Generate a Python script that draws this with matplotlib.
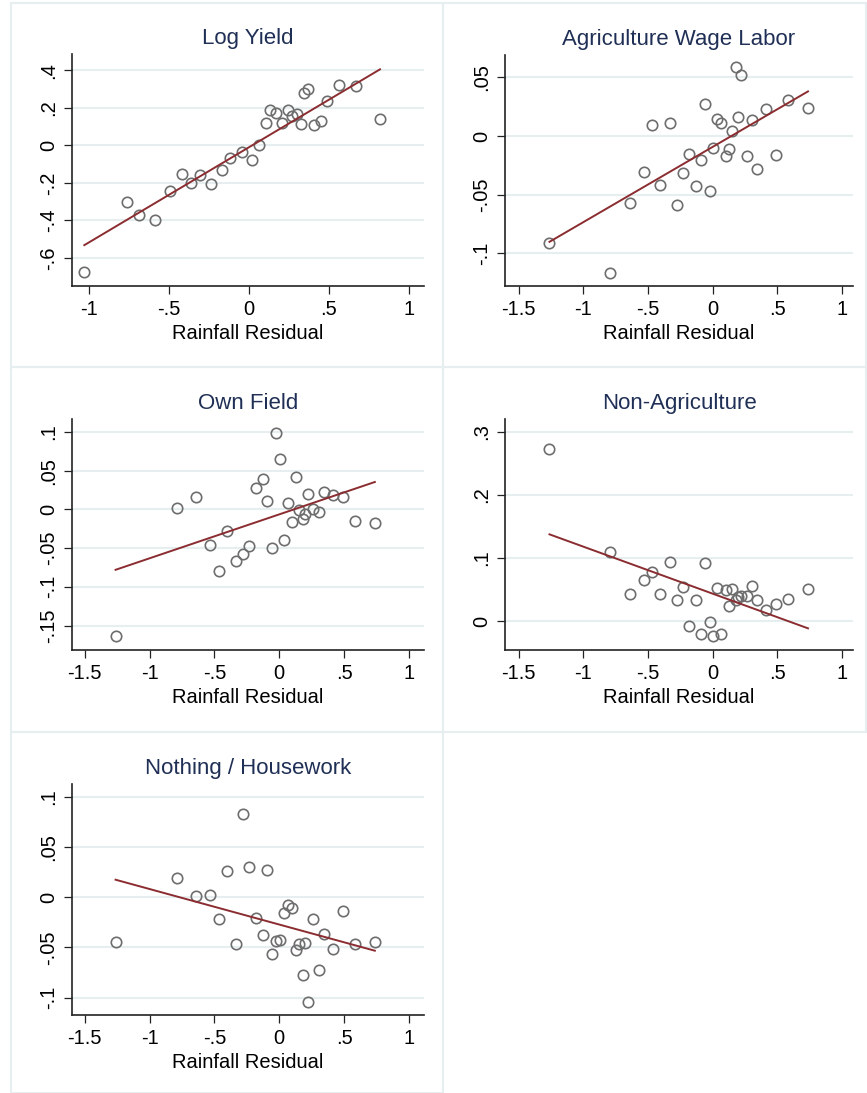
import numpy as np
import matplotlib.pyplot as plt
from matplotlib.patches import Rectangle
from matplotlib.ticker import FuncFormatter

plt.rcParams['font.family'] = ['Liberation Sans', 'DejaVu Sans']

# Log Yield panel has its own rainfall values
x_yield = [-1.029, -0.760, -0.685, -0.590, -0.496, -0.421, -0.360, -0.306, -0.2375, -0.171,
           -0.119, -0.044, 0.021, 0.065, 0.108, 0.131, 0.167, 0.204, 0.246, 0.271,
           0.300, 0.323, 0.346, 0.369, 0.404, 0.450, 0.4875, 0.5625, 0.669, 0.819]
log_yield = [-0.677, -0.299, -0.371, -0.397, -0.242, -0.150, -0.200, -0.155, -0.203, -0.130,
             -0.066, -0.034, -0.077, 0.002, 0.118, 0.187, 0.175, 0.121, 0.187, 0.159,
             0.169, 0.112, 0.280, 0.303, 0.109, 0.132, 0.239, 0.324, 0.317, 0.139]

# rainfall residual shared by the four labor panels
rain = [-1.262, -0.792, -0.641, -0.533, -0.467, -0.406, -0.333, -0.277, -0.231, -0.181,
        -0.128, -0.093, -0.058, -0.023, 0.005, 0.036, 0.064, 0.100, 0.130, 0.153,
        0.180, 0.196, 0.222, 0.263, 0.305, 0.346, 0.413, 0.488, 0.586, 0.737]
ag_wage = [-0.0914, -0.1166, -0.0569, -0.0311, 0.0094, -0.0417, 0.0109, -0.0591, -0.032, -0.0157,
           -0.0423, -0.0203, 0.0271, -0.0466, -0.010, 0.0149, 0.0111, -0.0171, -0.0109, 0.004,
           0.0586, 0.0166, 0.052, -0.0169, 0.014, -0.028, 0.0234, -0.016, 0.0309, 0.024]
own_field = [-0.164, 0.0013, 0.0159, -0.0456, -0.080, -0.0275, -0.0663, -0.0577, -0.0478, 0.028,
             0.0392, 0.0108, -0.0495, 0.0981, 0.065, -0.0396, 0.0086, -0.0159, 0.0417, -0.0004,
             -0.0125, -0.006, 0.0202, 0.0004, -0.003, 0.0228, 0.018, 0.0159, -0.0155, -0.018]
non_ag = [0.273, 0.110, 0.0427, 0.0648, 0.0785, 0.0438, 0.0938, 0.0332, 0.0543, -0.0074,
          0.0343, -0.0195, 0.0923, -0.0005, -0.0237, 0.0522, -0.0195, 0.0496, 0.0237, 0.0511,
          0.0337, 0.038, 0.0406, 0.0406, 0.0559, 0.0332, 0.0174, 0.0279, 0.0353, 0.0506]
housework = [-0.0443, 0.019, 0.001, 0.0023, -0.022, 0.0263, -0.0463, 0.0822, 0.0303, -0.021,
             -0.038, 0.0266, -0.0566, -0.0433, -0.0426, -0.0153, -0.008, -0.0107, -0.0526, -0.0469,
             -0.0779, -0.0456, -0.1042, -0.022, -0.0729, -0.0363, -0.0513, -0.0136, -0.0466, -0.0446]

titles = ['Log Yield', 'Agriculture Wage Labor', 'Own Field', 'Non-Agriculture', 'Nothing / Housework']
xs = [x_yield, rain, rain, rain, rain]
ys = [log_yield, ag_wage, own_field, non_ag, housework]
yticks = [[-0.6, -0.4, -0.2, 0, 0.2, 0.4],
          [-0.1, -0.05, 0, 0.05],
          [-0.15, -0.1, -0.05, 0, 0.05, 0.1],
          [0, 0.1, 0.2, 0.3],
          [-0.1, -0.05, 0, 0.05, 0.1]]
xticks = [[-1, -0.5, 0, 0.5, 1]] + [[-1.5, -1, -0.5, 0, 0.5, 1]] * 4

W, H = 867, 1093
# plot regions in pixels: left, right, top, bottom
boxes = [(72, 424, 54, 286), (505, 853, 55, 286), (72, 424, 419, 650),
         (505, 853, 419, 650), (72, 424, 784, 1015)]
xlims = [(-1.106, 1.094), (-1.606, 1.085), (-1.598, 1.116), (-1.606, 1.085), (-1.598, 1.116)]
ylims = [(-0.749, 0.487), (-0.128, 0.0691), (-0.1816, 0.1166), (-0.0454, 0.320), (-0.1172, 0.1125)]

frame_col = '#e6eef0'
fig = plt.figure(figsize=(W / 100, H / 100), dpi=100)

# light frames round each sub graph
for (x0, x1) in [(11, 443), (443, 866)]:
    for (y0, y1) in [(3, 367), (367, 732), (732, 1093)]:
        if x0 == 443 and y0 == 732:
            continue
        fig.patches.append(Rectangle((x0 / W, 1 - y1 / H), (x1 - x0) / W, (y1 - y0) / H,
                                     transform=fig.transFigure, fill=False,
                                     edgecolor=frame_col, lw=1.5))


def stata_fmt(v, pos):
    s = '%g' % round(v, 4)
    if s == '-0':
        s = '0'
    return s.replace('0.', '.')


for i in range(5):
    l, r, t, b = boxes[i]
    ax = fig.add_axes([l / W, 1 - b / H, (r - l) / W, (b - t) / H])
    x = np.array(xs[i])
    y = np.array(ys[i])
    ax.plot(x, y, 'o', mfc='none', mec='#6e6e6e', ms=7.5, mew=1.2, zorder=3)
    k, n = np.polyfit(x, y, 1)                       # linearni fit
    xx = np.array([x.min(), x.max()])
    ax.plot(xx, k * xx + n, color='#8b2c30', lw=1.4, zorder=4)

    ax.set_xlim(xlims[i])
    ax.set_ylim(ylims[i])
    ax.set_xticks(xticks[i])
    ax.set_yticks(yticks[i])
    ax.xaxis.set_major_formatter(FuncFormatter(stata_fmt))
    ax.yaxis.set_major_formatter(FuncFormatter(stata_fmt))
    ax.grid(axis='y', color=frame_col, lw=1.5)
    ax.set_axisbelow(True)
    for s in ['top', 'right']:
        ax.spines[s].set_visible(False)
    for s in ['left', 'bottom']:
        ax.spines[s].set_linewidth(1.2)
        ax.spines[s].set_color('#222222')
    ax.tick_params(length=6, width=0.9, color='#222222', labelsize=14.5, pad=4)
    ax.tick_params(axis='y', labelrotation=90)
    for lab in ax.get_yticklabels():
        lab.set_va('center')
    ax.set_xlabel('Rainfall Residual', fontsize=14.5, labelpad=4)
    ax.set_title(titles[i], fontsize=16, color='#1f2f55', pad=7)

plt.savefig('out.png', dpi=100)
